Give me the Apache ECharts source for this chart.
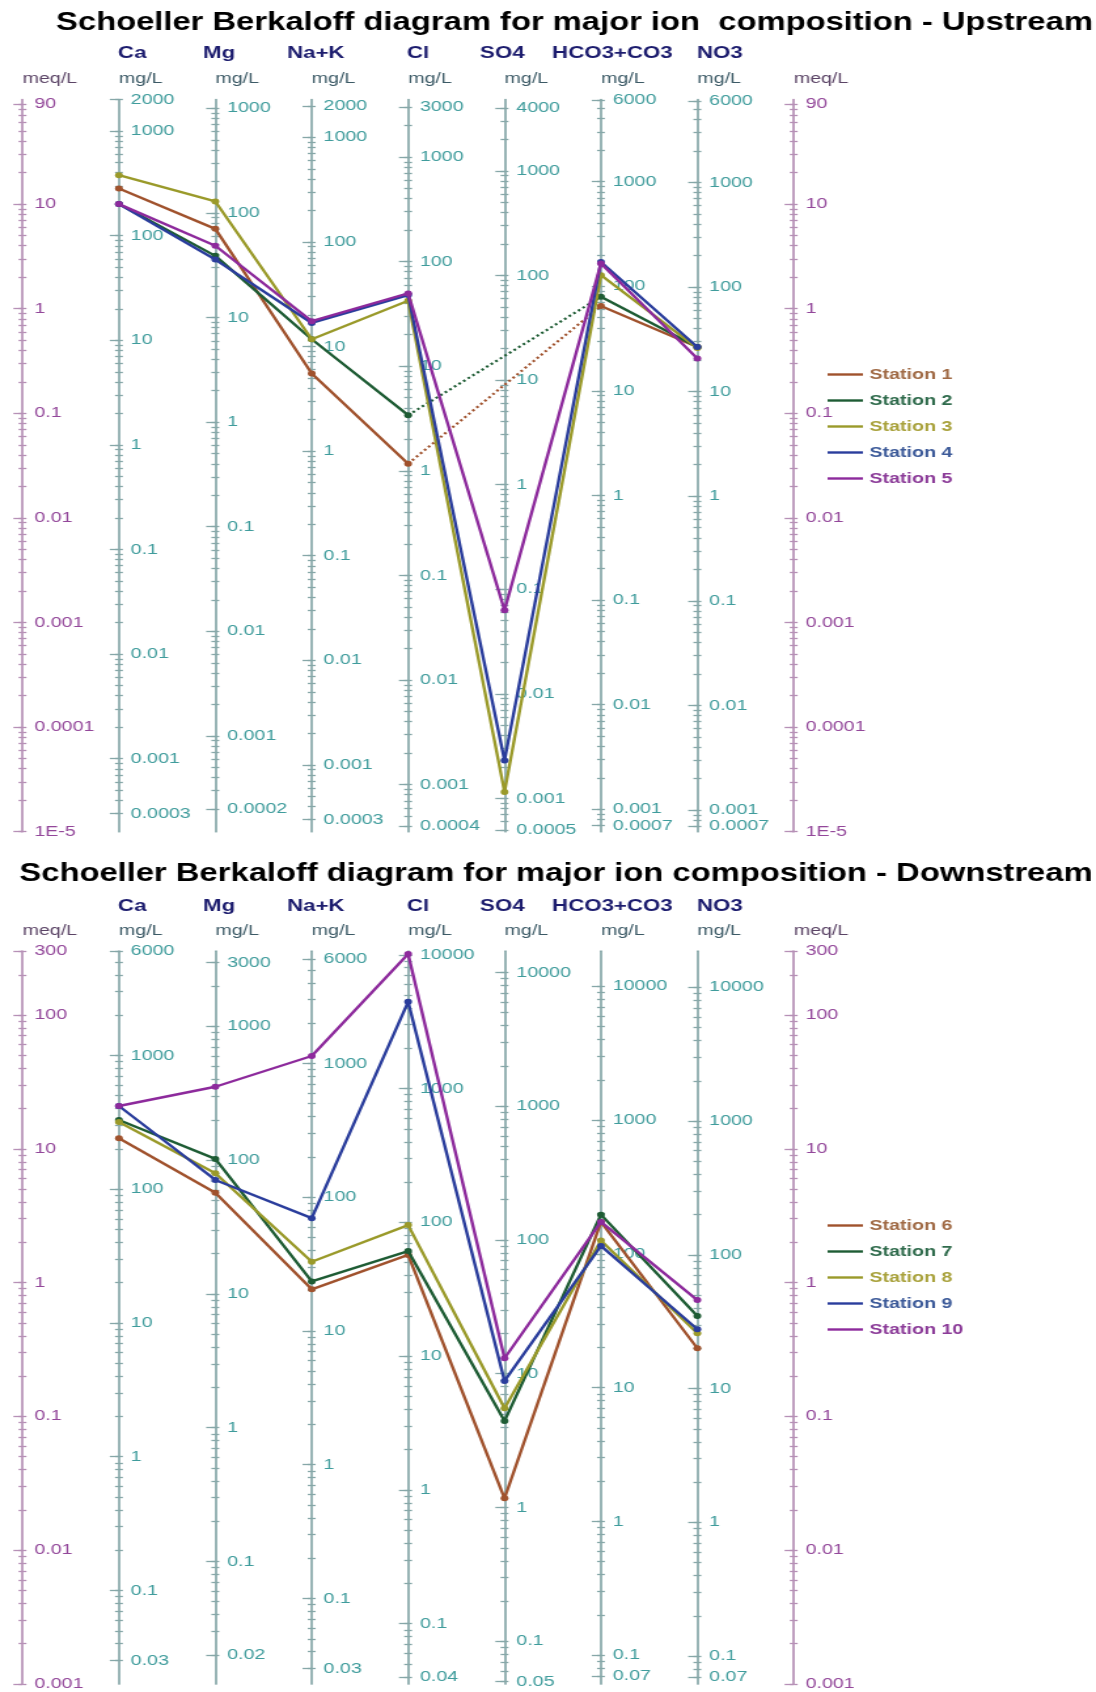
<!DOCTYPE html>
<html>
<head>
<meta charset="utf-8">
<title>Schoeller Berkaloff diagrams</title>
<script src="https://cdn.jsdelivr.net/npm/echarts@6/dist/echarts.min.js"></script>
<style>
  html, body { margin: 0; padding: 0; background: #ffffff; overflow: hidden; }
  /* the diagram is laid out on a narrower sheet and widened to the page width */
  #chart { width: 837px; height: 1692px; transform: scaleX(1.30944); transform-origin: 0 0; }
</style>
</head>
<body>
<div id="chart"></div>
<script>
// ---------- ions and their equivalent weights (mg per meq) ----------
const ionNames = ['Ca', 'Mg', 'Na+K', 'Cl', 'SO4', 'HCO3+CO3', 'NO3'];
const eqWeights = [20.04, 12.15, 23.0, 35.45, 48.03, 61.02, 62.0];

// ---------- upstream stations, meq/L (Ca, Mg, Na+K, Cl, SO4, HCO3+CO3, NO3) ----------
const upStations = ['Station 1', 'Station 2', 'Station 3', 'Station 4', 'Station 5'];
const upStation1 = [14.1, 5.8, 0.24, 0.033, null, 1.06, 0.43];
const upStation2 = [10.0, 3.2, 0.51, 0.096, null, 1.30, 0.43];
const upStation3 = [18.9, 10.6, 0.51, 1.19, 0.000024, 2.09, 0.42];
const upStation4 = [10.0, 2.95, 0.73, 1.35, 0.000048, 2.80, 0.43];
const upStation5 = [10.0, 4.0, 0.76, 1.40, 0.00131, 2.70, 0.334];

// ---------- downstream stations, meq/L ----------
const downStations = ['Station 6', 'Station 7', 'Station 8', 'Station 9', 'Station 10'];
const downStation6 = [12.0, 4.7, 0.89, 1.61, 0.0244, 2.84, 0.323];
const downStation7 = [16.4, 8.4, 1.02, 1.72, 0.0924, 3.22, 0.562];
const downStation8 = [15.85, 6.56, 1.43, 2.69, 0.115, 2.06, 0.418];
const downStation9 = [20.9, 5.85, 3.03, 125.6, 0.184, 1.88, 0.448];
const downStation10 = [20.9, 29.1, 49.4, 285.7, 0.272, 2.84, 0.74];

// ---------- axis ranges (meq/L) and tick labels ----------
const upMeqRange = [1e-5, 100];
const upMeqLabels = ['1E-5', '0.0001', '0.001', '0.01', '0.1', '1', '10', '90'];
const upCaLabels = ['0.0003', '0.001', '0.01', '0.1', '1', '10', '100', '1000', '2000'];
const upMgLabels = ['0.0002', '0.001', '0.01', '0.1', '1', '10', '100', '1000'];
const upNaKLabels = ['0.0003', '0.001', '0.01', '0.1', '1', '10', '100', '1000', '2000'];
const upClLabels = ['0.0004', '0.001', '0.01', '0.1', '1', '10', '100', '1000', '3000'];
const upSO4Labels = ['0.0005', '0.001', '0.01', '0.1', '1', '10', '100', '1000', '4000'];
const upHCO3Labels = ['0.0007', '0.001', '0.01', '0.1', '1', '10', '100', '1000', '6000'];
const upNO3Labels = ['0.0007', '0.001', '0.01', '0.1', '1', '10', '100', '1000', '6000'];

const downMeqRange = [0.001, 300];
const downMeqLabels = ['0.001', '0.01', '0.1', '1', '10', '100', '300'];
const downCaLabels = ['0.03', '0.1', '1', '10', '100', '1000', '6000'];
const downMgLabels = ['0.02', '0.1', '1', '10', '100', '1000', '3000'];
const downNaKLabels = ['0.03', '0.1', '1', '10', '100', '1000', '6000'];
const downClLabels = ['0.04', '0.1', '1', '10', '100', '1000', '10000'];
const downSO4Labels = ['0.05', '0.1', '1', '10', '100', '1000', '10000'];
const downHCO3Labels = ['0.07', '0.1', '1', '10', '100', '1000', '10000'];
const downNO3Labels = ['0.07', '0.1', '1', '10', '100', '1000', '10000'];

// ---------- styling ----------
const FONT = "'Liberation Sans', Arial, Helvetica, sans-serif";
const lineColors = ['#a0522d', '#1e5c34', '#9a9a2a', '#2a3d9c', '#8d2a9c'];
const legendTextColors = ['#a06a45', '#2f6b4c', '#a9a23c', '#3c5a99', '#8c3c99'];
const meqAxisColor = '#b690b6', meqLabelColor = '#93479a';
const ionAxisColor = '#86a7a8', ionLabelColor = '#3f9c9c';
const headerColor = '#1c1c6e', meqUnitColor = '#5b4466', mgUnitColor = '#3c5a66';

// column positions on the sheet (meq/L, 7 ions, meq/L)
const AXIS_X0 = 17.2, AXIS_STEP = 73.62;
const axisX = Array.from({ length: 9 }, (_, i) => AXIS_X0 + AXIS_STEP * i);
const headerX = [90.1, 155.0, 219.2, 310.8, 366.6, 421.6, 532.3];

const panels = [
  {
    title: 'Schoeller Berkaloff diagram for major ion  composition - Upstream',
    titleX: 42.8, titleY: 23.6, headerY: 53.6, unitY: 79.2,
    top: 99.5, height: 732.2, legendTop: 367,
    meqRange: upMeqRange, meqLabels: upMeqLabels,
    ionLabels: [upCaLabels, upMgLabels, upNaKLabels, upClLabels, upSO4Labels, upHCO3Labels, upNO3Labels],
    names: upStations,
    values: [upStation1, upStation2, upStation3, upStation4, upStation5]
  },
  {
    title: 'Schoeller Berkaloff diagram for major ion composition - Downstream',
    titleX: 14.8, titleY: 874.4, headerY: 906, unitY: 930.4,
    top: 951.2, height: 732.7, legendTop: 1218,
    meqRange: downMeqRange, meqLabels: downMeqLabels,
    ionLabels: [downCaLabels, downMgLabels, downNaKLabels, downClLabels, downSO4Labels, downHCO3Labels, downNO3Labels],
    names: downStations,
    values: [downStation6, downStation7, downStation8, downStation9, downStation10]
  }
];

// every 1..9 x 10^n mark between lo and hi
function logTicks(lo, hi) {
  const out = [];
  for (let e = Math.floor(Math.log10(lo)) - 1; e <= Math.ceil(Math.log10(hi)); e++) {
    for (let k = 1; k <= 9; k++) {
      const v = Number((k * Math.pow(10, e)).toPrecision(3));
      if (v >= lo * 0.9999 && v <= hi * 1.0001) out.push(v);
    }
  }
  return out;
}
function labelText(labels, v) {
  let best = labels[0], bd = Infinity;
  labels.forEach(function (s) {
    const d = Math.abs(Math.log10(Number(s)) - Math.log10(v));
    if (d < bd) { bd = d; best = s; }
  });
  return best;
}

const grid = [], xAxis = [], yAxis = [], series = [], legend = [], graphic = [];

// three stacked y axes per column: line + left ticks + labels, right ticks, long ticks at labels
function addColumnAxes(gridIndex, range, labels, lineColor, labelColor) {
  const vals = labels.map(Number);
  const ticks = logTicks(vals[0], vals[vals.length - 1]);
  const base = {
    gridIndex: gridIndex, type: 'log', logBase: 10, min: range[0], max: range[1],
    position: 'left', splitLine: { show: false }, minorTick: { show: false }, silent: true
  };
  const tickLine = { color: lineColor, width: 1.3 };
  yAxis.push(Object.assign({}, base, {
    axisLine: { show: true, lineStyle: { color: lineColor, width: 1.7 } },
    axisTick: { show: true, customValues: ticks, length: 3, inside: false, lineStyle: tickLine },
    axisLabel: {
      show: true, inside: true, customValues: vals, margin: 9, color: labelColor,
      fontSize: 15, fontFamily: FONT, formatter: function (v) { return labelText(labels, v); }
    }
  }));
  yAxis.push(Object.assign({}, base, {
    axisLine: { show: false },
    axisTick: { show: true, customValues: ticks, length: 3, inside: true, lineStyle: tickLine },
    axisLabel: { show: false }
  }));
  yAxis.push(Object.assign({}, base, {
    axisLine: { show: false },
    axisTick: { show: true, customValues: vals, length: 7, inside: false, lineStyle: tickLine },
    axisLabel: { show: false }
  }));
}

panels.forEach(function (p) {
  // one thin grid for every vertical scale
  for (let a = 0; a < 9; a++) {
    const gi = grid.length;
    grid.push({ left: axisX[a], width: 1, top: p.top, height: p.height, containLabel: false, outerBoundsMode: 'none' });
    xAxis.push({ gridIndex: gi, type: 'value', show: false, min: 0, max: 1 });
    if (a === 0 || a === 8) {
      addColumnAxes(gi, p.meqRange, p.meqLabels, meqAxisColor, meqLabelColor);
    } else {
      const w = eqWeights[a - 1];
      addColumnAxes(gi, [p.meqRange[0] * w, p.meqRange[1] * w], p.ionLabels[a - 1], ionAxisColor, ionLabelColor);
    }
  }
  // plotting grid in meq/L spanning all columns
  const mg = grid.length;
  grid.push({ left: axisX[0], width: axisX[8] - axisX[0], top: p.top, height: p.height, containLabel: false, outerBoundsMode: 'none' });
  xAxis.push({ gridIndex: mg, type: 'value', show: false, min: 0, max: 8 });
  const my = yAxis.length;
  yAxis.push({ gridIndex: mg, type: 'log', logBase: 10, min: p.meqRange[0], max: p.meqRange[1], show: false });

  p.names.forEach(function (name, s) {
    const vals = p.values[s];
    const color = lineColors[s];
    series.push({
      type: 'line', name: name, xAxisIndex: mg, yAxisIndex: my,
      data: vals.map(function (v, i) { return [i + 1, v == null ? '-' : v]; }),
      symbol: 'circle', symbolSize: 6, showSymbol: true, connectNulls: false,
      lineStyle: { width: 2.4, color: color }, itemStyle: { color: color },
      silent: true, animation: false, z: 3 + s
    });
    // dotted bridge across a missing ion
    vals.forEach(function (v, i) {
      if (v == null && i > 0 && i < vals.length - 1 && vals[i - 1] != null && vals[i + 1] != null) {
        series.push({
          type: 'line', name: name + ' (no SO4)', xAxisIndex: mg, yAxisIndex: my,
          data: [[i, vals[i - 1]], [i + 2, vals[i + 1]]],
          symbol: 'none', lineStyle: { width: 2.2, color: color, type: [2, 2.5] },
          silent: true, animation: false, z: 2
        });
      }
    });
  });

  legend.push({
    data: p.names.map(function (n, i) { return { name: n, textStyle: { color: legendTextColors[i] } }; }),
    orient: 'vertical', left: 632, top: p.legendTop, padding: 0,
    icon: 'rect', itemWidth: 27, itemHeight: 2.4, itemGap: 11, selectedMode: false,
    textStyle: { fontSize: 15, fontWeight: 'bold', fontFamily: FONT }
  });

  // title, ion names, units
  graphic.push({
    type: 'text', x: p.titleX, y: p.titleY, silent: true,
    style: { text: p.title, fill: '#000000', font: 'bold 25px ' + FONT, verticalAlign: 'middle', textVerticalAlign: 'middle' }
  });
  ionNames.forEach(function (n, i) {
    graphic.push({
      type: 'text', x: headerX[i], y: p.headerY, silent: true,
      style: { text: n, fill: headerColor, font: 'bold 17px ' + FONT, verticalAlign: 'middle', textVerticalAlign: 'middle' }
    });
  });
  for (let a = 0; a < 9; a++) {
    const isMeq = (a === 0 || a === 8);
    graphic.push({
      type: 'text', x: axisX[a], y: p.unitY, silent: true,
      style: { text: isMeq ? 'meq/L' : 'mg/L', fill: isMeq ? meqUnitColor : mgUnitColor, font: '15px ' + FONT, verticalAlign: 'middle', textVerticalAlign: 'middle' }
    });
  }
});

const chart = echarts.init(document.getElementById('chart'), null, { renderer: 'canvas' });
chart.setOption({
  backgroundColor: '#ffffff',
  animation: false,
  textStyle: { fontFamily: FONT },
  grid: grid, xAxis: xAxis, yAxis: yAxis, series: series, legend: legend, graphic: graphic
});
</script>
</body>
</html>
